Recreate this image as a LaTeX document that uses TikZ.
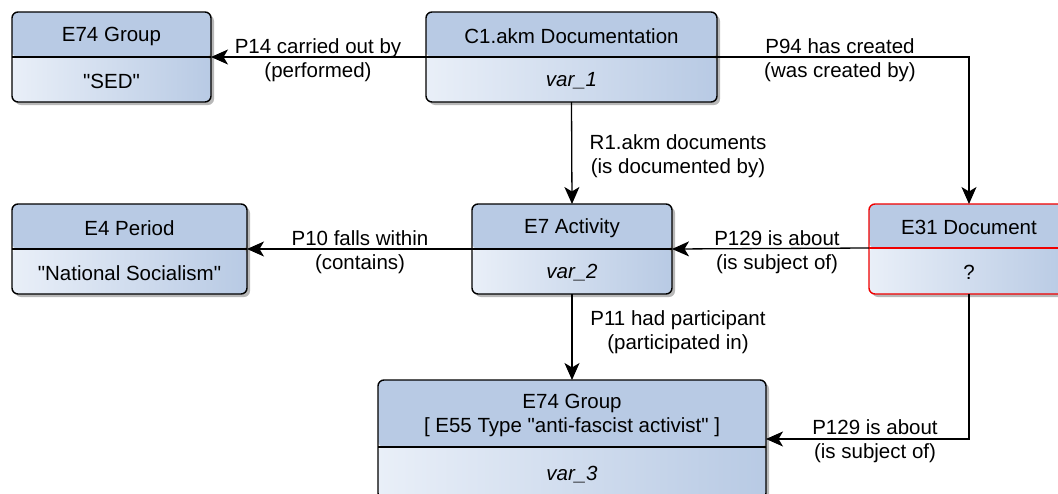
\documentclass[tikz,border=0pt]{standalone}
\usepackage{fontspec}
\newfontfamily\lsans{Liberation Sans}
\usetikzlibrary{arrows.meta,shadows,calc}
\definecolor{hdr}{RGB}{184,202,228}
\definecolor{lite}{RGB}{233,239,248}
\definecolor{redb}{RGB}{240,0,0}
\tikzset{
  boxshape/.style={draw=#1, line width=1.4pt, rounded corners=6pt, inner sep=0pt, outer sep=0pt,
    anchor=north west,
    drop shadow={shadow xshift=3pt, shadow yshift=-3pt, opacity=0.28, fill=black},
    path picture={
      \fill[hdr] (path picture bounding box.north west) rectangle ([yshift=-\hh pt]path picture bounding box.north east);
      \shade[left color=lite, right color=hdr] ([yshift=-\hh pt]path picture bounding box.north west) rectangle (path picture bounding box.south east);
      \draw[draw=\bc, line width=1.4pt] ([yshift=-\hh pt]path picture bounding box.north west) -- ([yshift=-\hh pt]path picture bounding box.north east);
    }},
  txt/.style={font=\lsans\fontsize{20.5}{24}\selectfont, align=center, inner sep=0pt},
  arr/.style={line width=1.3pt, -{Stealth[length=17pt,width=15pt,inset=4.5pt]}},
}
\newcommand\umlbox[9]{%
  \def\hh{#6}\def\bc{#9}%
  \node[boxshape=#9, minimum width=#4pt, minimum height=#5pt] (#1) at (#2,#3) {};
  \coordinate (#1-dw) at ($(#1.north west)+(0,#6)$);
  \coordinate (#1-de) at ($(#1.north east)+(0,#6)$);
  \node[txt] (#1-h) at ($(#1.north)+(0,#6/2+1.5)$) {#7};
  \node[txt] (#1-b) at ($(#1-dw)!0.5!(#1.south east)+(0,1.5)$) {#8};
}
\begin{document}
\begin{tikzpicture}[x=1pt,y=-1pt]
\fill[white] (0,0) rectangle (1058,493);
\useasboundingbox (0,0) rectangle (1058,493);
\umlbox{ga}{12}{12}{199}{90}{45}{E74 Group}{"SED"}{black}
\umlbox{ca}{426}{12}{291}{90}{45}{C1.akm Documentation}{\textit{var\_1}}{black}
\umlbox{pa}{12}{204}{235}{90}{45}{E4 Period}{"National Socialism"}{black}
\umlbox{ea}{472}{204}{200}{90}{45}{E7 Activity}{\textit{var\_2}}{black}
\umlbox{da}{869}{204}{200}{90}{44}{E31 Document}{?}{redb}
\umlbox{gb}{378}{380}{388}{119}{67}{E74 Group\\{[} E55 Type "anti-fascist activist" ]}{\textit{var\_3}}{black}

\draw[arr] (ca-dw) -- (ga-de);
\draw[arr] (ca-de) -| (da.north);
\draw[arr] (ca.south) -- (ea.north);
\draw[arr] (ea-dw) -- (pa-de);
\draw[arr] (da-dw) -- (ea-de);
\draw[arr] (ea.south) -- (gb.north);
\draw[arr] (da.south) |- ($(gb.north east)+(0,59)$);

\node[txt] (l1) at (318,60.5) {P14 carried out by\\(performed)};
\node[txt] (l2) at (840,60.5) {P94 has created\\(was created by)};
\node[txt] (l3) at (678,156.5) {R1.akm documents\\(is documented by)};
\node[txt] (l4) at (360,252.5) {P10 falls within\\(contains)};
\node[txt] (l5) at (777,252.5) {P129 is about\\(is subject of)};
\node[txt] (l6) at (678,332.5) {P11 had participant\\(participated in)};
\node[txt] (l7) at (875,441.5) {P129 is about\\(is subject of)};
\end{tikzpicture}
\end{document}
